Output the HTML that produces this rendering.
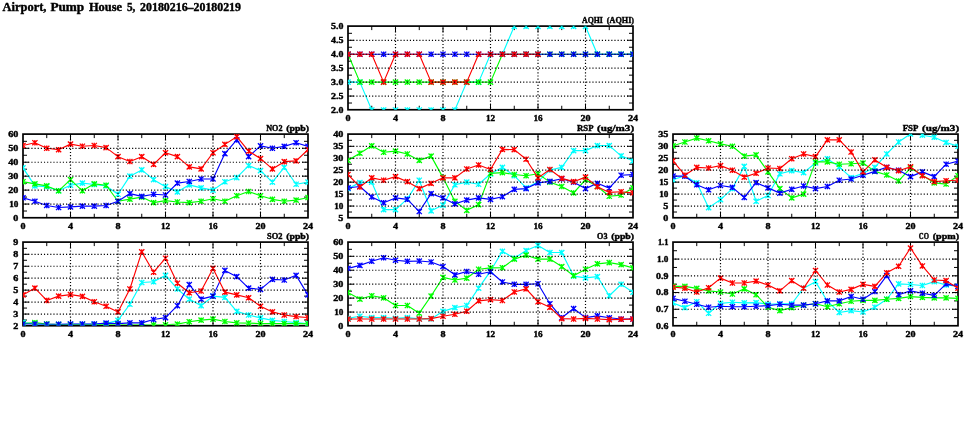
<!DOCTYPE html>
<html><head><meta charset="utf-8"><title>Airport, Pump House 5</title>
<style>
html,body{margin:0;padding:0;background:#fff;}
svg{will-change:transform;}
body{width:975px;height:447px;overflow:hidden;position:relative;font-family:"Liberation Serif",serif;}
</style></head><body>
<svg width="975" height="447" viewBox="0 0 975 447" style="position:absolute;left:0;top:0">
<defs>
<g id="mk"><path d="M-2.6,-2.6L2.6,2.6M-2.6,2.6L2.6,-2.6M0,-2.7L0,2.7" fill="none" stroke-width="1.3"/></g>
</defs>
<g font-family="Liberation Serif, serif" font-weight="bold" fill="#000" stroke="#000" stroke-width="0.4">
<text x="2.6" y="10.7" font-size="12" textLength="43.8" lengthAdjust="spacingAndGlyphs">Airport,</text>
<text x="50.4" y="10.7" font-size="12" textLength="33.8" lengthAdjust="spacingAndGlyphs">Pump</text>
<text x="88.9" y="10.7" font-size="12" textLength="33.1" lengthAdjust="spacingAndGlyphs">House</text>
<text x="126.9" y="10.7" font-size="12" textLength="8.4" lengthAdjust="spacingAndGlyphs">5,</text>
<text x="140.1" y="10.7" font-size="12" textLength="100.9" lengthAdjust="spacingAndGlyphs">20180216–20180219</text>
<clipPath id="cp1"><rect x="348" y="25.8" width="285" height="83.95"/></clipPath>
<clipPath id="cl1"><rect x="349.05" y="27.15" width="282.9" height="81.55"/></clipPath>
<path d="M371.75,109.75v-4.0M371.75,26.1v4.0M395.5,109.75v-6.0M395.5,26.1v6.0M419.25,109.75v-4.0M419.25,26.1v4.0M443,109.75v-6.0M443,26.1v6.0M466.75,109.75v-4.0M466.75,26.1v4.0M490.5,109.75v-6.0M490.5,26.1v6.0M514.25,109.75v-4.0M514.25,26.1v4.0M538,109.75v-6.0M538,26.1v6.0M561.75,109.75v-4.0M561.75,26.1v4.0M585.5,109.75v-6.0M585.5,26.1v6.0M609.25,109.75v-4.0M609.25,26.1v4.0M348,103.03h4.0M633,103.03h-4.0M348,96.06h6.0M633,96.06h-6.0M348,89.09h4.0M633,89.09h-4.0M348,82.12h6.0M633,82.12h-6.0M348,75.15h4.0M633,75.15h-4.0M348,68.17h6.0M633,68.17h-6.0M348,61.2h4.0M633,61.2h-4.0M348,54.23h6.0M633,54.23h-6.0M348,47.26h4.0M633,47.26h-4.0M348,40.29h6.0M633,40.29h-6.0M348,33.32h4.0M633,33.32h-4.0" stroke="#000" stroke-width="1" fill="none"/>
<rect x="348" y="26.1" width="285" height="83.65" fill="none" stroke="#000" stroke-width="1.7"/>
<g clip-path="url(#cp1)">
<polyline clip-path="url(#cl1)" points="348,82.12 359.88,82.12 371.75,110 383.62,110 395.5,110 407.38,110 419.25,110 431.12,110 443,110 454.88,110 466.75,82.12 478.62,82.12 490.5,54.23 502.38,54.23 514.25,26.35 526.12,26.35 538,26.35 549.88,26.35 561.75,26.35 573.62,26.35 585.5,26.35 597.38,54.23 609.25,54.23 621.12,54.23 633,54.23" fill="none" stroke="#00ffff" stroke-width="1.15" stroke-linejoin="round"/>
<g stroke="#00ffff"><use href="#mk" x="348" y="82.12"/><use href="#mk" x="359.88" y="82.12"/><use href="#mk" x="371.75" y="110"/><use href="#mk" x="383.62" y="110"/><use href="#mk" x="395.5" y="110"/><use href="#mk" x="407.38" y="110"/><use href="#mk" x="419.25" y="110"/><use href="#mk" x="431.12" y="110"/><use href="#mk" x="443" y="110"/><use href="#mk" x="454.88" y="110"/><use href="#mk" x="466.75" y="82.12"/><use href="#mk" x="478.62" y="82.12"/><use href="#mk" x="490.5" y="54.23"/><use href="#mk" x="502.38" y="54.23"/><use href="#mk" x="514.25" y="26.35"/><use href="#mk" x="526.12" y="26.35"/><use href="#mk" x="538" y="26.35"/><use href="#mk" x="549.88" y="26.35"/><use href="#mk" x="561.75" y="26.35"/><use href="#mk" x="573.62" y="26.35"/><use href="#mk" x="585.5" y="26.35"/><use href="#mk" x="597.38" y="54.23"/><use href="#mk" x="609.25" y="54.23"/><use href="#mk" x="621.12" y="54.23"/><use href="#mk" x="633" y="54.23"/></g>
<polyline clip-path="url(#cl1)" points="348,54.23 359.88,82.12 371.75,82.12 383.62,82.12 395.5,82.12 407.38,82.12 419.25,82.12 431.12,82.12 443,82.12 454.88,82.12 466.75,82.12 478.62,82.12 490.5,82.12 502.38,54.23 514.25,54.23 526.12,54.23 538,54.23 549.88,54.23 561.75,54.23 573.62,54.23 585.5,54.23 597.38,54.23 609.25,54.23 621.12,54.23 633,54.23" fill="none" stroke="#00ff00" stroke-width="1.15" stroke-linejoin="round"/>
<g stroke="#00ff00"><use href="#mk" x="348" y="54.23"/><use href="#mk" x="359.88" y="82.12"/><use href="#mk" x="371.75" y="82.12"/><use href="#mk" x="383.62" y="82.12"/><use href="#mk" x="395.5" y="82.12"/><use href="#mk" x="407.38" y="82.12"/><use href="#mk" x="419.25" y="82.12"/><use href="#mk" x="431.12" y="82.12"/><use href="#mk" x="443" y="82.12"/><use href="#mk" x="454.88" y="82.12"/><use href="#mk" x="466.75" y="82.12"/><use href="#mk" x="478.62" y="82.12"/><use href="#mk" x="490.5" y="82.12"/><use href="#mk" x="502.38" y="54.23"/><use href="#mk" x="514.25" y="54.23"/><use href="#mk" x="526.12" y="54.23"/><use href="#mk" x="538" y="54.23"/><use href="#mk" x="549.88" y="54.23"/><use href="#mk" x="561.75" y="54.23"/><use href="#mk" x="573.62" y="54.23"/><use href="#mk" x="585.5" y="54.23"/><use href="#mk" x="597.38" y="54.23"/><use href="#mk" x="609.25" y="54.23"/><use href="#mk" x="621.12" y="54.23"/><use href="#mk" x="633" y="54.23"/></g>
<polyline clip-path="url(#cl1)" points="348,54.23 359.88,54.23 371.75,54.23 383.62,54.23 395.5,54.23 407.38,54.23 419.25,54.23 431.12,54.23 443,54.23 454.88,54.23 466.75,54.23 478.62,54.23 490.5,54.23 502.38,54.23 514.25,54.23 526.12,54.23 538,54.23 549.88,54.23 561.75,54.23 573.62,54.23 585.5,54.23 597.38,54.23 609.25,54.23 621.12,54.23 633,54.23" fill="none" stroke="#0000ff" stroke-width="1.15" stroke-linejoin="round"/>
<g stroke="#0000ff"><use href="#mk" x="348" y="54.23"/><use href="#mk" x="359.88" y="54.23"/><use href="#mk" x="371.75" y="54.23"/><use href="#mk" x="383.62" y="54.23"/><use href="#mk" x="395.5" y="54.23"/><use href="#mk" x="407.38" y="54.23"/><use href="#mk" x="419.25" y="54.23"/><use href="#mk" x="431.12" y="54.23"/><use href="#mk" x="443" y="54.23"/><use href="#mk" x="454.88" y="54.23"/><use href="#mk" x="466.75" y="54.23"/><use href="#mk" x="478.62" y="54.23"/><use href="#mk" x="490.5" y="54.23"/><use href="#mk" x="502.38" y="54.23"/><use href="#mk" x="514.25" y="54.23"/><use href="#mk" x="526.12" y="54.23"/><use href="#mk" x="538" y="54.23"/><use href="#mk" x="549.88" y="54.23"/><use href="#mk" x="561.75" y="54.23"/><use href="#mk" x="573.62" y="54.23"/><use href="#mk" x="585.5" y="54.23"/><use href="#mk" x="597.38" y="54.23"/><use href="#mk" x="609.25" y="54.23"/><use href="#mk" x="621.12" y="54.23"/><use href="#mk" x="633" y="54.23"/></g>
<polyline clip-path="url(#cl1)" points="348,54.23 359.88,54.23 371.75,54.23 383.62,82.12 395.5,54.23 407.38,54.23 419.25,54.23 431.12,82.12 443,82.12 454.88,82.12 466.75,82.12 478.62,54.23 490.5,54.23 502.38,54.23 514.25,54.23 526.12,54.23 538,54.23" fill="none" stroke="#ff0000" stroke-width="1.15" stroke-linejoin="round"/>
<g stroke="#ff0000"><use href="#mk" x="348" y="54.23"/><use href="#mk" x="359.88" y="54.23"/><use href="#mk" x="371.75" y="54.23"/><use href="#mk" x="383.62" y="82.12"/><use href="#mk" x="395.5" y="54.23"/><use href="#mk" x="407.38" y="54.23"/><use href="#mk" x="419.25" y="54.23"/><use href="#mk" x="431.12" y="82.12"/><use href="#mk" x="443" y="82.12"/><use href="#mk" x="454.88" y="82.12"/><use href="#mk" x="466.75" y="82.12"/><use href="#mk" x="478.62" y="54.23"/><use href="#mk" x="490.5" y="54.23"/><use href="#mk" x="502.38" y="54.23"/><use href="#mk" x="514.25" y="54.23"/><use href="#mk" x="526.12" y="54.23"/><use href="#mk" x="538" y="54.23"/></g>
</g>
<path d="M395.5,26.1V109.75M443,26.1V109.75M490.5,26.1V109.75M538,26.1V109.75M585.5,26.1V109.75M348,96.06H633M348,82.12H633M348,68.17H633M348,54.23H633M348,40.29H633" stroke="#000" stroke-width="1.2" stroke-dasharray="1.15 1.997" stroke-dashoffset="1.07" fill="none"/>
<text x="348" y="121.45" font-size="8.3" text-anchor="middle" textLength="5.05" lengthAdjust="spacingAndGlyphs">0</text>
<text x="395.5" y="121.45" font-size="8.3" text-anchor="middle" textLength="5.05" lengthAdjust="spacingAndGlyphs">4</text>
<text x="443" y="121.45" font-size="8.3" text-anchor="middle" textLength="5.05" lengthAdjust="spacingAndGlyphs">8</text>
<text x="490.5" y="121.45" font-size="8.3" text-anchor="middle" textLength="9.15" lengthAdjust="spacingAndGlyphs">12</text>
<text x="538" y="121.45" font-size="8.3" text-anchor="middle" textLength="9.15" lengthAdjust="spacingAndGlyphs">16</text>
<text x="585.5" y="121.45" font-size="8.3" text-anchor="middle" textLength="10.1" lengthAdjust="spacingAndGlyphs">20</text>
<text x="633" y="121.45" font-size="8.3" text-anchor="middle" textLength="10.1" lengthAdjust="spacingAndGlyphs">24</text>
<text x="343.4" y="112.9" font-size="8.3" text-anchor="end" textLength="12.4" lengthAdjust="spacingAndGlyphs">2.0</text>
<text x="343.4" y="98.96" font-size="8.3" text-anchor="end" textLength="12.4" lengthAdjust="spacingAndGlyphs">2.5</text>
<text x="343.4" y="85.02" font-size="8.3" text-anchor="end" textLength="12.4" lengthAdjust="spacingAndGlyphs">3.0</text>
<text x="343.4" y="71.08" font-size="8.3" text-anchor="end" textLength="12.4" lengthAdjust="spacingAndGlyphs">3.5</text>
<text x="343.4" y="57.13" font-size="8.3" text-anchor="end" textLength="12.4" lengthAdjust="spacingAndGlyphs">4.0</text>
<text x="343.4" y="43.19" font-size="8.3" text-anchor="end" textLength="12.4" lengthAdjust="spacingAndGlyphs">4.5</text>
<text x="343.4" y="29.25" font-size="8.3" text-anchor="end" textLength="12.4" lengthAdjust="spacingAndGlyphs">5.0</text>
<text x="602.9" y="22.7" font-size="8.3" text-anchor="end" textLength="20.9" lengthAdjust="spacingAndGlyphs">AQHI</text>
<text x="634.1" y="22.7" font-size="8.3" text-anchor="end" textLength="27.3" lengthAdjust="spacingAndGlyphs">(AQHI)</text>
<clipPath id="cp2"><rect x="23" y="133.8" width="285" height="83.95"/></clipPath>
<clipPath id="cl2"><rect x="24.05" y="135.15" width="282.9" height="81.55"/></clipPath>
<path d="M46.75,217.75v-4.0M46.75,134.1v4.0M70.5,217.75v-6.0M70.5,134.1v6.0M94.25,217.75v-4.0M94.25,134.1v4.0M118,217.75v-6.0M118,134.1v6.0M141.75,217.75v-4.0M141.75,134.1v4.0M165.5,217.75v-6.0M165.5,134.1v6.0M189.25,217.75v-4.0M189.25,134.1v4.0M213,217.75v-6.0M213,134.1v6.0M236.75,217.75v-4.0M236.75,134.1v4.0M260.5,217.75v-6.0M260.5,134.1v6.0M284.25,217.75v-4.0M284.25,134.1v4.0M23,211.03h4.0M308,211.03h-4.0M23,204.06h6.0M308,204.06h-6.0M23,197.09h4.0M308,197.09h-4.0M23,190.12h6.0M308,190.12h-6.0M23,183.15h4.0M308,183.15h-4.0M23,176.18h6.0M308,176.18h-6.0M23,169.2h4.0M308,169.2h-4.0M23,162.23h6.0M308,162.23h-6.0M23,155.26h4.0M308,155.26h-4.0M23,148.29h6.0M308,148.29h-6.0M23,141.32h4.0M308,141.32h-4.0" stroke="#000" stroke-width="1" fill="none"/>
<rect x="23" y="134.1" width="285" height="83.65" fill="none" stroke="#000" stroke-width="1.7"/>
<g clip-path="url(#cp2)">
<polyline clip-path="url(#cl2)" points="23,167.81 34.88,185.93 46.75,186.63 58.62,190.81 70.5,185.24 82.38,183.15 94.25,184.54 106.12,185.93 118,194.3 129.88,176.18 141.75,169.9 153.62,179.66 165.5,186.63 177.38,191.93 189.25,184.82 201.12,187.89 213,190.12 224.88,181.75 236.75,177.57 248.62,165.58 260.5,170.6 272.38,182.17 284.25,167.39 296.12,184.26 308,182.17" fill="none" stroke="#00ffff" stroke-width="1.15" stroke-linejoin="round"/>
<g stroke="#00ffff"><use href="#mk" x="23" y="167.81"/><use href="#mk" x="34.88" y="185.93"/><use href="#mk" x="46.75" y="186.63"/><use href="#mk" x="58.62" y="190.81"/><use href="#mk" x="70.5" y="185.24"/><use href="#mk" x="82.38" y="183.15"/><use href="#mk" x="94.25" y="184.54"/><use href="#mk" x="106.12" y="185.93"/><use href="#mk" x="118" y="194.3"/><use href="#mk" x="129.88" y="176.18"/><use href="#mk" x="141.75" y="169.9"/><use href="#mk" x="153.62" y="179.66"/><use href="#mk" x="165.5" y="186.63"/><use href="#mk" x="177.38" y="191.93"/><use href="#mk" x="189.25" y="184.82"/><use href="#mk" x="201.12" y="187.89"/><use href="#mk" x="213" y="190.12"/><use href="#mk" x="224.88" y="181.75"/><use href="#mk" x="236.75" y="177.57"/><use href="#mk" x="248.62" y="165.58"/><use href="#mk" x="260.5" y="170.6"/><use href="#mk" x="272.38" y="182.17"/><use href="#mk" x="284.25" y="167.39"/><use href="#mk" x="296.12" y="184.26"/><use href="#mk" x="308" y="182.17"/></g>
<polyline clip-path="url(#cl2)" points="23,181.75 34.88,183.84 46.75,185.93 58.62,190.81 70.5,179.66 82.38,190.81 94.25,183.84 106.12,185.24 118,201.27 129.88,199.18 141.75,197.09 153.62,202.66 165.5,200.57 177.38,201.97 189.25,202.66 201.12,201.27 213,198.76 224.88,201.27 236.75,195.69 248.62,191.51 260.5,195.69 272.38,199.32 284.25,201.27 296.12,200.15 308,197.51" fill="none" stroke="#00ff00" stroke-width="1.15" stroke-linejoin="round"/>
<g stroke="#00ff00"><use href="#mk" x="23" y="181.75"/><use href="#mk" x="34.88" y="183.84"/><use href="#mk" x="46.75" y="185.93"/><use href="#mk" x="58.62" y="190.81"/><use href="#mk" x="70.5" y="179.66"/><use href="#mk" x="82.38" y="190.81"/><use href="#mk" x="94.25" y="183.84"/><use href="#mk" x="106.12" y="185.24"/><use href="#mk" x="118" y="201.27"/><use href="#mk" x="129.88" y="199.18"/><use href="#mk" x="141.75" y="197.09"/><use href="#mk" x="153.62" y="202.66"/><use href="#mk" x="165.5" y="200.57"/><use href="#mk" x="177.38" y="201.97"/><use href="#mk" x="189.25" y="202.66"/><use href="#mk" x="201.12" y="201.27"/><use href="#mk" x="213" y="198.76"/><use href="#mk" x="224.88" y="201.27"/><use href="#mk" x="236.75" y="195.69"/><use href="#mk" x="248.62" y="191.51"/><use href="#mk" x="260.5" y="195.69"/><use href="#mk" x="272.38" y="199.32"/><use href="#mk" x="284.25" y="201.27"/><use href="#mk" x="296.12" y="200.15"/><use href="#mk" x="308" y="197.51"/></g>
<polyline clip-path="url(#cl2)" points="23,197.78 34.88,201.27 46.75,205.45 58.62,207.54 70.5,206.85 82.38,206.15 94.25,206.15 106.12,205.45 118,201.27 129.88,193.6 141.75,196.39 153.62,194.3 165.5,195 177.38,183.15 189.25,181.47 201.12,178.96 213,178.96 224.88,153.59 236.75,139.93 248.62,156.66 260.5,145.92 272.38,148.29 284.25,146.34 296.12,142.71 308,146.34" fill="none" stroke="#0000ff" stroke-width="1.15" stroke-linejoin="round"/>
<g stroke="#0000ff"><use href="#mk" x="23" y="197.78"/><use href="#mk" x="34.88" y="201.27"/><use href="#mk" x="46.75" y="205.45"/><use href="#mk" x="58.62" y="207.54"/><use href="#mk" x="70.5" y="206.85"/><use href="#mk" x="82.38" y="206.15"/><use href="#mk" x="94.25" y="206.15"/><use href="#mk" x="106.12" y="205.45"/><use href="#mk" x="118" y="201.27"/><use href="#mk" x="129.88" y="193.6"/><use href="#mk" x="141.75" y="196.39"/><use href="#mk" x="153.62" y="194.3"/><use href="#mk" x="165.5" y="195"/><use href="#mk" x="177.38" y="183.15"/><use href="#mk" x="189.25" y="181.47"/><use href="#mk" x="201.12" y="178.96"/><use href="#mk" x="213" y="178.96"/><use href="#mk" x="224.88" y="153.59"/><use href="#mk" x="236.75" y="139.93"/><use href="#mk" x="248.62" y="156.66"/><use href="#mk" x="260.5" y="145.92"/><use href="#mk" x="272.38" y="148.29"/><use href="#mk" x="284.25" y="146.34"/><use href="#mk" x="296.12" y="142.71"/><use href="#mk" x="308" y="146.34"/></g>
<polyline clip-path="url(#cl2)" points="23,145.5 34.88,142.71 46.75,148.29 58.62,149.69 70.5,144.11 82.38,146.2 94.25,145.5 106.12,147.59 118,156.66 129.88,161.54 141.75,156.66 153.62,164.32 165.5,152.75 177.38,156.66 189.25,166.83 201.12,168.93 213,152.75 224.88,144.39 236.75,136.72 248.62,151.08 260.5,158.61 272.38,168.93 284.25,161.68 296.12,160.84 308,149.69" fill="none" stroke="#ff0000" stroke-width="1.15" stroke-linejoin="round"/>
<g stroke="#ff0000"><use href="#mk" x="23" y="145.5"/><use href="#mk" x="34.88" y="142.71"/><use href="#mk" x="46.75" y="148.29"/><use href="#mk" x="58.62" y="149.69"/><use href="#mk" x="70.5" y="144.11"/><use href="#mk" x="82.38" y="146.2"/><use href="#mk" x="94.25" y="145.5"/><use href="#mk" x="106.12" y="147.59"/><use href="#mk" x="118" y="156.66"/><use href="#mk" x="129.88" y="161.54"/><use href="#mk" x="141.75" y="156.66"/><use href="#mk" x="153.62" y="164.32"/><use href="#mk" x="165.5" y="152.75"/><use href="#mk" x="177.38" y="156.66"/><use href="#mk" x="189.25" y="166.83"/><use href="#mk" x="201.12" y="168.93"/><use href="#mk" x="213" y="152.75"/><use href="#mk" x="224.88" y="144.39"/><use href="#mk" x="236.75" y="136.72"/><use href="#mk" x="248.62" y="151.08"/><use href="#mk" x="260.5" y="158.61"/><use href="#mk" x="272.38" y="168.93"/><use href="#mk" x="284.25" y="161.68"/><use href="#mk" x="296.12" y="160.84"/><use href="#mk" x="308" y="149.69"/></g>
</g>
<path d="M70.5,134.1V217.75M118,134.1V217.75M165.5,134.1V217.75M213,134.1V217.75M260.5,134.1V217.75M23,204.06H308M23,190.12H308M23,176.18H308M23,162.23H308M23,148.29H308" stroke="#000" stroke-width="1.2" stroke-dasharray="1.15 1.997" stroke-dashoffset="1.07" fill="none"/>
<text x="23" y="229.45" font-size="8.3" text-anchor="middle" textLength="5.05" lengthAdjust="spacingAndGlyphs">0</text>
<text x="70.5" y="229.45" font-size="8.3" text-anchor="middle" textLength="5.05" lengthAdjust="spacingAndGlyphs">4</text>
<text x="118" y="229.45" font-size="8.3" text-anchor="middle" textLength="5.05" lengthAdjust="spacingAndGlyphs">8</text>
<text x="165.5" y="229.45" font-size="8.3" text-anchor="middle" textLength="9.15" lengthAdjust="spacingAndGlyphs">12</text>
<text x="213" y="229.45" font-size="8.3" text-anchor="middle" textLength="9.15" lengthAdjust="spacingAndGlyphs">16</text>
<text x="260.5" y="229.45" font-size="8.3" text-anchor="middle" textLength="10.1" lengthAdjust="spacingAndGlyphs">20</text>
<text x="308" y="229.45" font-size="8.3" text-anchor="middle" textLength="10.1" lengthAdjust="spacingAndGlyphs">24</text>
<text x="18.4" y="220.9" font-size="8.3" text-anchor="end" textLength="5.05" lengthAdjust="spacingAndGlyphs">0</text>
<text x="18.4" y="206.96" font-size="8.3" text-anchor="end" textLength="9.15" lengthAdjust="spacingAndGlyphs">10</text>
<text x="18.4" y="193.02" font-size="8.3" text-anchor="end" textLength="10.1" lengthAdjust="spacingAndGlyphs">20</text>
<text x="18.4" y="179.08" font-size="8.3" text-anchor="end" textLength="10.1" lengthAdjust="spacingAndGlyphs">30</text>
<text x="18.4" y="165.13" font-size="8.3" text-anchor="end" textLength="10.1" lengthAdjust="spacingAndGlyphs">40</text>
<text x="18.4" y="151.19" font-size="8.3" text-anchor="end" textLength="10.1" lengthAdjust="spacingAndGlyphs">50</text>
<text x="18.4" y="137.25" font-size="8.3" text-anchor="end" textLength="10.1" lengthAdjust="spacingAndGlyphs">60</text>
<text x="282.5" y="130.7" font-size="8.3" text-anchor="end" textLength="16.3" lengthAdjust="spacingAndGlyphs">NO2</text>
<text x="309.1" y="130.7" font-size="8.3" text-anchor="end" textLength="22.9" lengthAdjust="spacingAndGlyphs">(ppb)</text>
<clipPath id="cp3"><rect x="348" y="133.8" width="285" height="83.95"/></clipPath>
<clipPath id="cl3"><rect x="349.05" y="135.15" width="282.9" height="81.55"/></clipPath>
<path d="M371.75,217.75v-4.0M371.75,134.1v4.0M395.5,217.75v-6.0M395.5,134.1v6.0M419.25,217.75v-4.0M419.25,134.1v4.0M443,217.75v-6.0M443,134.1v6.0M466.75,217.75v-4.0M466.75,134.1v4.0M490.5,217.75v-6.0M490.5,134.1v6.0M514.25,217.75v-4.0M514.25,134.1v4.0M538,217.75v-6.0M538,134.1v6.0M561.75,217.75v-4.0M561.75,134.1v4.0M585.5,217.75v-6.0M585.5,134.1v6.0M609.25,217.75v-4.0M609.25,134.1v4.0M348,212.03h4.0M633,212.03h-4.0M348,206.05h6.0M633,206.05h-6.0M348,200.07h4.0M633,200.07h-4.0M348,194.1h6.0M633,194.1h-6.0M348,188.12h4.0M633,188.12h-4.0M348,182.15h6.0M633,182.15h-6.0M348,176.18h4.0M633,176.18h-4.0M348,170.2h6.0M633,170.2h-6.0M348,164.22h4.0M633,164.22h-4.0M348,158.25h6.0M633,158.25h-6.0M348,152.28h4.0M633,152.28h-4.0M348,146.3h6.0M633,146.3h-6.0M348,140.32h4.0M633,140.32h-4.0" stroke="#000" stroke-width="1" fill="none"/>
<rect x="348" y="134.1" width="285" height="83.65" fill="none" stroke="#000" stroke-width="1.7"/>
<g clip-path="url(#cp3)">
<polyline clip-path="url(#cl3)" points="348,188.6 359.88,182.63 371.75,182.15 383.62,209.63 395.5,209.63 407.38,198.88 419.25,180.24 431.12,210.83 443,205.09 454.88,184.78 466.75,182.15 478.62,184.3 490.5,174.02 502.38,167.33 514.25,175.7 526.12,187.89 538,181.67 549.88,169.96 561.75,167.33 573.62,150.6 585.5,150.6 597.38,145.58 609.25,145.58 621.12,155.86 633,160.88" fill="none" stroke="#00ffff" stroke-width="1.15" stroke-linejoin="round"/>
<g stroke="#00ffff"><use href="#mk" x="348" y="188.6"/><use href="#mk" x="359.88" y="182.63"/><use href="#mk" x="371.75" y="182.15"/><use href="#mk" x="383.62" y="209.63"/><use href="#mk" x="395.5" y="209.63"/><use href="#mk" x="407.38" y="198.88"/><use href="#mk" x="419.25" y="180.24"/><use href="#mk" x="431.12" y="210.83"/><use href="#mk" x="443" y="205.09"/><use href="#mk" x="454.88" y="184.78"/><use href="#mk" x="466.75" y="182.15"/><use href="#mk" x="478.62" y="184.3"/><use href="#mk" x="490.5" y="174.02"/><use href="#mk" x="502.38" y="167.33"/><use href="#mk" x="514.25" y="175.7"/><use href="#mk" x="526.12" y="187.89"/><use href="#mk" x="538" y="181.67"/><use href="#mk" x="549.88" y="169.96"/><use href="#mk" x="561.75" y="167.33"/><use href="#mk" x="573.62" y="150.6"/><use href="#mk" x="585.5" y="150.6"/><use href="#mk" x="597.38" y="145.58"/><use href="#mk" x="609.25" y="145.58"/><use href="#mk" x="621.12" y="155.86"/><use href="#mk" x="633" y="160.88"/></g>
<polyline clip-path="url(#cl3)" points="348,160.4 359.88,153.23 371.75,145.82 383.62,152.28 395.5,151.08 407.38,153.95 419.25,160.4 431.12,156.1 443,177.61 454.88,201.27 466.75,210.35 478.62,204.62 490.5,173.31 502.38,172.59 514.25,174.5 526.12,175.7 538,173.78 549.88,182.15 561.75,186.45 573.62,192.91 585.5,179.76 597.38,186.45 609.25,196.25 621.12,195.06 633,187.89" fill="none" stroke="#00ff00" stroke-width="1.15" stroke-linejoin="round"/>
<g stroke="#00ff00"><use href="#mk" x="348" y="160.4"/><use href="#mk" x="359.88" y="153.23"/><use href="#mk" x="371.75" y="145.82"/><use href="#mk" x="383.62" y="152.28"/><use href="#mk" x="395.5" y="151.08"/><use href="#mk" x="407.38" y="153.95"/><use href="#mk" x="419.25" y="160.4"/><use href="#mk" x="431.12" y="156.1"/><use href="#mk" x="443" y="177.61"/><use href="#mk" x="454.88" y="201.27"/><use href="#mk" x="466.75" y="210.35"/><use href="#mk" x="478.62" y="204.62"/><use href="#mk" x="490.5" y="173.31"/><use href="#mk" x="502.38" y="172.59"/><use href="#mk" x="514.25" y="174.5"/><use href="#mk" x="526.12" y="175.7"/><use href="#mk" x="538" y="173.78"/><use href="#mk" x="549.88" y="182.15"/><use href="#mk" x="561.75" y="186.45"/><use href="#mk" x="573.62" y="192.91"/><use href="#mk" x="585.5" y="179.76"/><use href="#mk" x="597.38" y="186.45"/><use href="#mk" x="609.25" y="196.25"/><use href="#mk" x="621.12" y="195.06"/><use href="#mk" x="633" y="187.89"/></g>
<polyline clip-path="url(#cl3)" points="348,187.89 359.88,186.45 371.75,196.97 383.62,202.7 395.5,197.92 407.38,199.36 419.25,211.55 431.12,193.62 443,197.92 454.88,203.9 466.75,200.07 478.62,197.92 490.5,199.36 502.38,196.73 514.25,189.32 526.12,188.6 538,182.87 549.88,181.43 561.75,178.8 573.62,182.15 585.5,188.6 597.38,183.34 609.25,188.12 621.12,175.22 633,174.5" fill="none" stroke="#0000ff" stroke-width="1.15" stroke-linejoin="round"/>
<g stroke="#0000ff"><use href="#mk" x="348" y="187.89"/><use href="#mk" x="359.88" y="186.45"/><use href="#mk" x="371.75" y="196.97"/><use href="#mk" x="383.62" y="202.7"/><use href="#mk" x="395.5" y="197.92"/><use href="#mk" x="407.38" y="199.36"/><use href="#mk" x="419.25" y="211.55"/><use href="#mk" x="431.12" y="193.62"/><use href="#mk" x="443" y="197.92"/><use href="#mk" x="454.88" y="203.9"/><use href="#mk" x="466.75" y="200.07"/><use href="#mk" x="478.62" y="197.92"/><use href="#mk" x="490.5" y="199.36"/><use href="#mk" x="502.38" y="196.73"/><use href="#mk" x="514.25" y="189.32"/><use href="#mk" x="526.12" y="188.6"/><use href="#mk" x="538" y="182.87"/><use href="#mk" x="549.88" y="181.43"/><use href="#mk" x="561.75" y="178.8"/><use href="#mk" x="573.62" y="182.15"/><use href="#mk" x="585.5" y="188.6"/><use href="#mk" x="597.38" y="183.34"/><use href="#mk" x="609.25" y="188.12"/><use href="#mk" x="621.12" y="175.22"/><use href="#mk" x="633" y="174.5"/></g>
<polyline clip-path="url(#cl3)" points="348,174.5 359.88,186.93 371.75,177.85 383.62,180.24 395.5,176.65 407.38,181.67 419.25,188.6 431.12,183.34 443,177.85 454.88,177.85 466.75,169 478.62,164.94 490.5,169.48 502.38,149.41 514.25,149.65 526.12,159.21 538,177.85 549.88,169.48 561.75,178.33 573.62,181.67 585.5,177.13 597.38,186.69 609.25,192.43 621.12,191.71 633,192.91" fill="none" stroke="#ff0000" stroke-width="1.15" stroke-linejoin="round"/>
<g stroke="#ff0000"><use href="#mk" x="348" y="174.5"/><use href="#mk" x="359.88" y="186.93"/><use href="#mk" x="371.75" y="177.85"/><use href="#mk" x="383.62" y="180.24"/><use href="#mk" x="395.5" y="176.65"/><use href="#mk" x="407.38" y="181.67"/><use href="#mk" x="419.25" y="188.6"/><use href="#mk" x="431.12" y="183.34"/><use href="#mk" x="443" y="177.85"/><use href="#mk" x="454.88" y="177.85"/><use href="#mk" x="466.75" y="169"/><use href="#mk" x="478.62" y="164.94"/><use href="#mk" x="490.5" y="169.48"/><use href="#mk" x="502.38" y="149.41"/><use href="#mk" x="514.25" y="149.65"/><use href="#mk" x="526.12" y="159.21"/><use href="#mk" x="538" y="177.85"/><use href="#mk" x="549.88" y="169.48"/><use href="#mk" x="561.75" y="178.33"/><use href="#mk" x="573.62" y="181.67"/><use href="#mk" x="585.5" y="177.13"/><use href="#mk" x="597.38" y="186.69"/><use href="#mk" x="609.25" y="192.43"/><use href="#mk" x="621.12" y="191.71"/><use href="#mk" x="633" y="192.91"/></g>
</g>
<path d="M395.5,134.1V217.75M443,134.1V217.75M490.5,134.1V217.75M538,134.1V217.75M585.5,134.1V217.75M348,206.05H633M348,194.1H633M348,182.15H633M348,170.2H633M348,158.25H633M348,146.3H633" stroke="#000" stroke-width="1.2" stroke-dasharray="1.15 1.997" stroke-dashoffset="1.07" fill="none"/>
<text x="348" y="229.45" font-size="8.3" text-anchor="middle" textLength="5.05" lengthAdjust="spacingAndGlyphs">0</text>
<text x="395.5" y="229.45" font-size="8.3" text-anchor="middle" textLength="5.05" lengthAdjust="spacingAndGlyphs">4</text>
<text x="443" y="229.45" font-size="8.3" text-anchor="middle" textLength="5.05" lengthAdjust="spacingAndGlyphs">8</text>
<text x="490.5" y="229.45" font-size="8.3" text-anchor="middle" textLength="9.15" lengthAdjust="spacingAndGlyphs">12</text>
<text x="538" y="229.45" font-size="8.3" text-anchor="middle" textLength="9.15" lengthAdjust="spacingAndGlyphs">16</text>
<text x="585.5" y="229.45" font-size="8.3" text-anchor="middle" textLength="10.1" lengthAdjust="spacingAndGlyphs">20</text>
<text x="633" y="229.45" font-size="8.3" text-anchor="middle" textLength="10.1" lengthAdjust="spacingAndGlyphs">24</text>
<text x="343.4" y="220.9" font-size="8.3" text-anchor="end" textLength="5.05" lengthAdjust="spacingAndGlyphs">5</text>
<text x="343.4" y="208.95" font-size="8.3" text-anchor="end" textLength="9.15" lengthAdjust="spacingAndGlyphs">10</text>
<text x="343.4" y="197" font-size="8.3" text-anchor="end" textLength="9.15" lengthAdjust="spacingAndGlyphs">15</text>
<text x="343.4" y="185.05" font-size="8.3" text-anchor="end" textLength="10.1" lengthAdjust="spacingAndGlyphs">20</text>
<text x="343.4" y="173.1" font-size="8.3" text-anchor="end" textLength="10.1" lengthAdjust="spacingAndGlyphs">25</text>
<text x="343.4" y="161.15" font-size="8.3" text-anchor="end" textLength="10.1" lengthAdjust="spacingAndGlyphs">30</text>
<text x="343.4" y="149.2" font-size="8.3" text-anchor="end" textLength="10.1" lengthAdjust="spacingAndGlyphs">35</text>
<text x="343.4" y="137.25" font-size="8.3" text-anchor="end" textLength="10.1" lengthAdjust="spacingAndGlyphs">40</text>
<text x="593.5" y="130.7" font-size="8.3" text-anchor="end" textLength="16.5" lengthAdjust="spacingAndGlyphs">RSP</text>
<text x="634.1" y="130.7" font-size="8.3" text-anchor="end" textLength="37" lengthAdjust="spacingAndGlyphs">(ug/m3)</text>
<clipPath id="cp4"><rect x="673" y="133.8" width="285" height="83.95"/></clipPath>
<clipPath id="cl4"><rect x="674.05" y="135.15" width="282.9" height="81.55"/></clipPath>
<path d="M696.75,217.75v-4.0M696.75,134.1v4.0M720.5,217.75v-6.0M720.5,134.1v6.0M744.25,217.75v-4.0M744.25,134.1v4.0M768,217.75v-6.0M768,134.1v6.0M791.75,217.75v-4.0M791.75,134.1v4.0M815.5,217.75v-6.0M815.5,134.1v6.0M839.25,217.75v-4.0M839.25,134.1v4.0M863,217.75v-6.0M863,134.1v6.0M886.75,217.75v-4.0M886.75,134.1v4.0M910.5,217.75v-6.0M910.5,134.1v6.0M934.25,217.75v-4.0M934.25,134.1v4.0M673,212.03h4.0M958,212.03h-4.0M673,206.05h6.0M958,206.05h-6.0M673,200.07h4.0M958,200.07h-4.0M673,194.1h6.0M958,194.1h-6.0M673,188.12h4.0M958,188.12h-4.0M673,182.15h6.0M958,182.15h-6.0M673,176.18h4.0M958,176.18h-4.0M673,170.2h6.0M958,170.2h-6.0M673,164.22h4.0M958,164.22h-4.0M673,158.25h6.0M958,158.25h-6.0M673,152.28h4.0M958,152.28h-4.0M673,146.3h6.0M958,146.3h-6.0M673,140.32h4.0M958,140.32h-4.0" stroke="#000" stroke-width="1" fill="none"/>
<rect x="673" y="134.1" width="285" height="83.65" fill="none" stroke="#000" stroke-width="1.7"/>
<g clip-path="url(#cp4)">
<polyline clip-path="url(#cl4)" points="673,179.76 684.88,175.7 696.75,182.87 708.62,207.72 720.5,199.6 732.38,188.6 744.25,166.38 756.12,201.27 768,195.53 779.88,173.78 791.75,170.68 803.62,172.59 815.5,163.03 827.38,158.73 839.25,166.85 851.12,177.61 863,173.31 874.88,167.33 886.75,153.95 898.62,142 910.5,133.87 922.38,135.07 934.25,137.22 946.12,142.48 958,146.3" fill="none" stroke="#00ffff" stroke-width="1.15" stroke-linejoin="round"/>
<g stroke="#00ffff"><use href="#mk" x="673" y="179.76"/><use href="#mk" x="684.88" y="175.7"/><use href="#mk" x="696.75" y="182.87"/><use href="#mk" x="708.62" y="207.72"/><use href="#mk" x="720.5" y="199.6"/><use href="#mk" x="732.38" y="188.6"/><use href="#mk" x="744.25" y="166.38"/><use href="#mk" x="756.12" y="201.27"/><use href="#mk" x="768" y="195.53"/><use href="#mk" x="779.88" y="173.78"/><use href="#mk" x="791.75" y="170.68"/><use href="#mk" x="803.62" y="172.59"/><use href="#mk" x="815.5" y="163.03"/><use href="#mk" x="827.38" y="158.73"/><use href="#mk" x="839.25" y="166.85"/><use href="#mk" x="851.12" y="177.61"/><use href="#mk" x="863" y="173.31"/><use href="#mk" x="874.88" y="167.33"/><use href="#mk" x="886.75" y="153.95"/><use href="#mk" x="898.62" y="142"/><use href="#mk" x="910.5" y="133.87"/><use href="#mk" x="922.38" y="135.07"/><use href="#mk" x="934.25" y="137.22"/><use href="#mk" x="946.12" y="142.48"/><use href="#mk" x="958" y="146.3"/></g>
<polyline clip-path="url(#cl4)" points="673,145.82 684.88,142 696.75,138.17 708.62,140.8 720.5,143.91 732.38,146.3 744.25,156.1 756.12,154.9 768,171.87 779.88,188.6 791.75,197.92 803.62,194.1 815.5,161.84 827.38,161.84 839.25,164.22 851.12,163.75 863,163.03 874.88,171.39 886.75,174.98 898.62,180.95 910.5,168.05 922.38,175.22 934.25,182.87 946.12,184.06 958,175.7" fill="none" stroke="#00ff00" stroke-width="1.15" stroke-linejoin="round"/>
<g stroke="#00ff00"><use href="#mk" x="673" y="145.82"/><use href="#mk" x="684.88" y="142"/><use href="#mk" x="696.75" y="138.17"/><use href="#mk" x="708.62" y="140.8"/><use href="#mk" x="720.5" y="143.91"/><use href="#mk" x="732.38" y="146.3"/><use href="#mk" x="744.25" y="156.1"/><use href="#mk" x="756.12" y="154.9"/><use href="#mk" x="768" y="171.87"/><use href="#mk" x="779.88" y="188.6"/><use href="#mk" x="791.75" y="197.92"/><use href="#mk" x="803.62" y="194.1"/><use href="#mk" x="815.5" y="161.84"/><use href="#mk" x="827.38" y="161.84"/><use href="#mk" x="839.25" y="164.22"/><use href="#mk" x="851.12" y="163.75"/><use href="#mk" x="863" y="163.03"/><use href="#mk" x="874.88" y="171.39"/><use href="#mk" x="886.75" y="174.98"/><use href="#mk" x="898.62" y="180.95"/><use href="#mk" x="910.5" y="168.05"/><use href="#mk" x="922.38" y="175.22"/><use href="#mk" x="934.25" y="182.87"/><use href="#mk" x="946.12" y="184.06"/><use href="#mk" x="958" y="175.7"/></g>
<polyline clip-path="url(#cl4)" points="673,176.18 684.88,176.18 696.75,184.78 708.62,189.8 720.5,185.5 732.38,187.41 744.25,197.45 756.12,182.63 768,187.89 779.88,193.14 791.75,189.32 803.62,185.97 815.5,188.6 827.38,186.45 839.25,180.24 851.12,179.04 863,175.22 874.88,171.39 886.75,167.33 898.62,170.2 910.5,176.65 922.38,171.87 934.25,176.65 946.12,164.22 958,161.12" fill="none" stroke="#0000ff" stroke-width="1.15" stroke-linejoin="round"/>
<g stroke="#0000ff"><use href="#mk" x="673" y="176.18"/><use href="#mk" x="684.88" y="176.18"/><use href="#mk" x="696.75" y="184.78"/><use href="#mk" x="708.62" y="189.8"/><use href="#mk" x="720.5" y="185.5"/><use href="#mk" x="732.38" y="187.41"/><use href="#mk" x="744.25" y="197.45"/><use href="#mk" x="756.12" y="182.63"/><use href="#mk" x="768" y="187.89"/><use href="#mk" x="779.88" y="193.14"/><use href="#mk" x="791.75" y="189.32"/><use href="#mk" x="803.62" y="185.97"/><use href="#mk" x="815.5" y="188.6"/><use href="#mk" x="827.38" y="186.45"/><use href="#mk" x="839.25" y="180.24"/><use href="#mk" x="851.12" y="179.04"/><use href="#mk" x="863" y="175.22"/><use href="#mk" x="874.88" y="171.39"/><use href="#mk" x="886.75" y="167.33"/><use href="#mk" x="898.62" y="170.2"/><use href="#mk" x="910.5" y="176.65"/><use href="#mk" x="922.38" y="171.87"/><use href="#mk" x="934.25" y="176.65"/><use href="#mk" x="946.12" y="164.22"/><use href="#mk" x="958" y="161.12"/></g>
<polyline clip-path="url(#cl4)" points="673,160.88 684.88,175.22 696.75,167.33 708.62,168.05 720.5,165.66 732.38,170.2 744.25,177.13 756.12,173.31 768,168.05 779.88,168.53 791.75,158.73 803.62,153.95 815.5,156.58 827.38,139.85 839.25,139.85 851.12,152.04 863,171.87 874.88,159.92 886.75,167.33 898.62,170.68 910.5,166.85 922.38,175.7 934.25,181.67 946.12,180.72 958,180.24" fill="none" stroke="#ff0000" stroke-width="1.15" stroke-linejoin="round"/>
<g stroke="#ff0000"><use href="#mk" x="673" y="160.88"/><use href="#mk" x="684.88" y="175.22"/><use href="#mk" x="696.75" y="167.33"/><use href="#mk" x="708.62" y="168.05"/><use href="#mk" x="720.5" y="165.66"/><use href="#mk" x="732.38" y="170.2"/><use href="#mk" x="744.25" y="177.13"/><use href="#mk" x="756.12" y="173.31"/><use href="#mk" x="768" y="168.05"/><use href="#mk" x="779.88" y="168.53"/><use href="#mk" x="791.75" y="158.73"/><use href="#mk" x="803.62" y="153.95"/><use href="#mk" x="815.5" y="156.58"/><use href="#mk" x="827.38" y="139.85"/><use href="#mk" x="839.25" y="139.85"/><use href="#mk" x="851.12" y="152.04"/><use href="#mk" x="863" y="171.87"/><use href="#mk" x="874.88" y="159.92"/><use href="#mk" x="886.75" y="167.33"/><use href="#mk" x="898.62" y="170.68"/><use href="#mk" x="910.5" y="166.85"/><use href="#mk" x="922.38" y="175.7"/><use href="#mk" x="934.25" y="181.67"/><use href="#mk" x="946.12" y="180.72"/><use href="#mk" x="958" y="180.24"/></g>
</g>
<path d="M720.5,134.1V217.75M768,134.1V217.75M815.5,134.1V217.75M863,134.1V217.75M910.5,134.1V217.75M673,206.05H958M673,194.1H958M673,182.15H958M673,170.2H958M673,158.25H958M673,146.3H958" stroke="#000" stroke-width="1.2" stroke-dasharray="1.15 1.997" stroke-dashoffset="1.07" fill="none"/>
<text x="673" y="229.45" font-size="8.3" text-anchor="middle" textLength="5.05" lengthAdjust="spacingAndGlyphs">0</text>
<text x="720.5" y="229.45" font-size="8.3" text-anchor="middle" textLength="5.05" lengthAdjust="spacingAndGlyphs">4</text>
<text x="768" y="229.45" font-size="8.3" text-anchor="middle" textLength="5.05" lengthAdjust="spacingAndGlyphs">8</text>
<text x="815.5" y="229.45" font-size="8.3" text-anchor="middle" textLength="9.15" lengthAdjust="spacingAndGlyphs">12</text>
<text x="863" y="229.45" font-size="8.3" text-anchor="middle" textLength="9.15" lengthAdjust="spacingAndGlyphs">16</text>
<text x="910.5" y="229.45" font-size="8.3" text-anchor="middle" textLength="10.1" lengthAdjust="spacingAndGlyphs">20</text>
<text x="958" y="229.45" font-size="8.3" text-anchor="middle" textLength="10.1" lengthAdjust="spacingAndGlyphs">24</text>
<text x="668.4" y="220.9" font-size="8.3" text-anchor="end" textLength="5.05" lengthAdjust="spacingAndGlyphs">0</text>
<text x="668.4" y="208.95" font-size="8.3" text-anchor="end" textLength="5.05" lengthAdjust="spacingAndGlyphs">5</text>
<text x="668.4" y="197" font-size="8.3" text-anchor="end" textLength="9.15" lengthAdjust="spacingAndGlyphs">10</text>
<text x="668.4" y="185.05" font-size="8.3" text-anchor="end" textLength="9.15" lengthAdjust="spacingAndGlyphs">15</text>
<text x="668.4" y="173.1" font-size="8.3" text-anchor="end" textLength="10.1" lengthAdjust="spacingAndGlyphs">20</text>
<text x="668.4" y="161.15" font-size="8.3" text-anchor="end" textLength="10.1" lengthAdjust="spacingAndGlyphs">25</text>
<text x="668.4" y="149.2" font-size="8.3" text-anchor="end" textLength="10.1" lengthAdjust="spacingAndGlyphs">30</text>
<text x="668.4" y="137.25" font-size="8.3" text-anchor="end" textLength="10.1" lengthAdjust="spacingAndGlyphs">35</text>
<text x="918.5" y="130.7" font-size="8.3" text-anchor="end" textLength="15.8" lengthAdjust="spacingAndGlyphs">FSP</text>
<text x="959.1" y="130.7" font-size="8.3" text-anchor="end" textLength="37" lengthAdjust="spacingAndGlyphs">(ug/m3)</text>
<clipPath id="cp5"><rect x="23" y="241.8" width="285" height="83.95"/></clipPath>
<clipPath id="cl5"><rect x="24.05" y="243.15" width="282.9" height="81.55"/></clipPath>
<path d="M46.75,325.75v-4.0M46.75,242.1v4.0M70.5,325.75v-6.0M70.5,242.1v6.0M94.25,325.75v-4.0M94.25,242.1v4.0M118,325.75v-6.0M118,242.1v6.0M141.75,325.75v-4.0M141.75,242.1v4.0M165.5,325.75v-6.0M165.5,242.1v6.0M189.25,325.75v-4.0M189.25,242.1v4.0M213,325.75v-6.0M213,242.1v6.0M236.75,325.75v-4.0M236.75,242.1v4.0M260.5,325.75v-6.0M260.5,242.1v6.0M284.25,325.75v-4.0M284.25,242.1v4.0M23,320.02h4.0M308,320.02h-4.0M23,314.05h6.0M308,314.05h-6.0M23,308.07h4.0M308,308.07h-4.0M23,302.1h6.0M308,302.1h-6.0M23,296.12h4.0M308,296.12h-4.0M23,290.15h6.0M308,290.15h-6.0M23,284.18h4.0M308,284.18h-4.0M23,278.2h6.0M308,278.2h-6.0M23,272.23h4.0M308,272.23h-4.0M23,266.25h6.0M308,266.25h-6.0M23,260.27h4.0M308,260.27h-4.0M23,254.3h6.0M308,254.3h-6.0M23,248.32h4.0M308,248.32h-4.0" stroke="#000" stroke-width="1" fill="none"/>
<rect x="23" y="242.1" width="285" height="83.65" fill="none" stroke="#000" stroke-width="1.7"/>
<g clip-path="url(#cp5)">
<polyline clip-path="url(#cl5)" points="23,322.42 34.88,324.21 46.75,324.57 58.62,324.57 70.5,324.21 82.38,324.21 94.25,324.21 106.12,323.61 118,320.38 129.88,304.25 141.75,282.5 153.62,281.78 165.5,275.33 177.38,288.95 189.25,299.11 201.12,305.69 213,296.12 224.88,297.32 236.75,311.42 248.62,315.01 260.5,317.87 272.38,320.38 284.25,321.46 296.12,322.65 308,323.61" fill="none" stroke="#00ffff" stroke-width="1.15" stroke-linejoin="round"/>
<g stroke="#00ffff"><use href="#mk" x="23" y="322.42"/><use href="#mk" x="34.88" y="324.21"/><use href="#mk" x="46.75" y="324.57"/><use href="#mk" x="58.62" y="324.57"/><use href="#mk" x="70.5" y="324.21"/><use href="#mk" x="82.38" y="324.21"/><use href="#mk" x="94.25" y="324.21"/><use href="#mk" x="106.12" y="323.61"/><use href="#mk" x="118" y="320.38"/><use href="#mk" x="129.88" y="304.25"/><use href="#mk" x="141.75" y="282.5"/><use href="#mk" x="153.62" y="281.78"/><use href="#mk" x="165.5" y="275.33"/><use href="#mk" x="177.38" y="288.95"/><use href="#mk" x="189.25" y="299.11"/><use href="#mk" x="201.12" y="305.69"/><use href="#mk" x="213" y="296.12"/><use href="#mk" x="224.88" y="297.32"/><use href="#mk" x="236.75" y="311.42"/><use href="#mk" x="248.62" y="315.01"/><use href="#mk" x="260.5" y="317.87"/><use href="#mk" x="272.38" y="320.38"/><use href="#mk" x="284.25" y="321.46"/><use href="#mk" x="296.12" y="322.65"/><use href="#mk" x="308" y="323.61"/></g>
<polyline clip-path="url(#cl5)" points="23,323.61 34.88,322.65 46.75,323.97 58.62,324.45 70.5,324.69 82.38,324.69 94.25,324.69 106.12,324.69 118,324.81 129.88,324.81 141.75,324.81 153.62,324.81 165.5,324.81 177.38,324.09 189.25,321.7 201.12,320.14 213,319.07 224.88,321.46 236.75,322.89 248.62,323.13 260.5,323.61 272.38,323.61 284.25,323.61 296.12,323.61 308,323.97" fill="none" stroke="#00ff00" stroke-width="1.15" stroke-linejoin="round"/>
<g stroke="#00ff00"><use href="#mk" x="23" y="323.61"/><use href="#mk" x="34.88" y="322.65"/><use href="#mk" x="46.75" y="323.97"/><use href="#mk" x="58.62" y="324.45"/><use href="#mk" x="70.5" y="324.69"/><use href="#mk" x="82.38" y="324.69"/><use href="#mk" x="94.25" y="324.69"/><use href="#mk" x="106.12" y="324.69"/><use href="#mk" x="118" y="324.81"/><use href="#mk" x="129.88" y="324.81"/><use href="#mk" x="141.75" y="324.81"/><use href="#mk" x="153.62" y="324.81"/><use href="#mk" x="165.5" y="324.81"/><use href="#mk" x="177.38" y="324.09"/><use href="#mk" x="189.25" y="321.7"/><use href="#mk" x="201.12" y="320.14"/><use href="#mk" x="213" y="319.07"/><use href="#mk" x="224.88" y="321.46"/><use href="#mk" x="236.75" y="322.89"/><use href="#mk" x="248.62" y="323.13"/><use href="#mk" x="260.5" y="323.61"/><use href="#mk" x="272.38" y="323.61"/><use href="#mk" x="284.25" y="323.61"/><use href="#mk" x="296.12" y="323.61"/><use href="#mk" x="308" y="323.97"/></g>
<polyline clip-path="url(#cl5)" points="23,323.97 34.88,323.97 46.75,324.21 58.62,324.21 70.5,323.97 82.38,323.97 94.25,323.97 106.12,323.13 118,323.61 129.88,322.89 141.75,322.89 153.62,319.55 165.5,317.63 177.38,305.69 189.25,284.53 201.12,299.11 213,296.12 224.88,270.43 236.75,276.65 248.62,288.12 260.5,289.43 272.38,279.39 284.25,279.99 296.12,275.33 308,294.93" fill="none" stroke="#0000ff" stroke-width="1.15" stroke-linejoin="round"/>
<g stroke="#0000ff"><use href="#mk" x="23" y="323.97"/><use href="#mk" x="34.88" y="323.97"/><use href="#mk" x="46.75" y="324.21"/><use href="#mk" x="58.62" y="324.21"/><use href="#mk" x="70.5" y="323.97"/><use href="#mk" x="82.38" y="323.97"/><use href="#mk" x="94.25" y="323.97"/><use href="#mk" x="106.12" y="323.13"/><use href="#mk" x="118" y="323.61"/><use href="#mk" x="129.88" y="322.89"/><use href="#mk" x="141.75" y="322.89"/><use href="#mk" x="153.62" y="319.55"/><use href="#mk" x="165.5" y="317.63"/><use href="#mk" x="177.38" y="305.69"/><use href="#mk" x="189.25" y="284.53"/><use href="#mk" x="201.12" y="299.11"/><use href="#mk" x="213" y="296.12"/><use href="#mk" x="224.88" y="270.43"/><use href="#mk" x="236.75" y="276.65"/><use href="#mk" x="248.62" y="288.12"/><use href="#mk" x="260.5" y="289.43"/><use href="#mk" x="272.38" y="279.39"/><use href="#mk" x="284.25" y="279.99"/><use href="#mk" x="296.12" y="275.33"/><use href="#mk" x="308" y="294.93"/></g>
<polyline clip-path="url(#cl5)" points="23,294.93 34.88,288.12 46.75,300.43 58.62,296.12 70.5,294.57 82.38,296.36 94.25,301.74 106.12,306.28 118,311.9 129.88,288.95 141.75,251.91 153.62,272.23 165.5,258.24 177.38,283.22 189.25,292.78 201.12,290.99 213,268.4 224.88,292.18 236.75,294.93 248.62,297.8 260.5,306.28 272.38,311.9 284.25,315.01 296.12,316.56 308,317.63" fill="none" stroke="#ff0000" stroke-width="1.15" stroke-linejoin="round"/>
<g stroke="#ff0000"><use href="#mk" x="23" y="294.93"/><use href="#mk" x="34.88" y="288.12"/><use href="#mk" x="46.75" y="300.43"/><use href="#mk" x="58.62" y="296.12"/><use href="#mk" x="70.5" y="294.57"/><use href="#mk" x="82.38" y="296.36"/><use href="#mk" x="94.25" y="301.74"/><use href="#mk" x="106.12" y="306.28"/><use href="#mk" x="118" y="311.9"/><use href="#mk" x="129.88" y="288.95"/><use href="#mk" x="141.75" y="251.91"/><use href="#mk" x="153.62" y="272.23"/><use href="#mk" x="165.5" y="258.24"/><use href="#mk" x="177.38" y="283.22"/><use href="#mk" x="189.25" y="292.78"/><use href="#mk" x="201.12" y="290.99"/><use href="#mk" x="213" y="268.4"/><use href="#mk" x="224.88" y="292.18"/><use href="#mk" x="236.75" y="294.93"/><use href="#mk" x="248.62" y="297.8"/><use href="#mk" x="260.5" y="306.28"/><use href="#mk" x="272.38" y="311.9"/><use href="#mk" x="284.25" y="315.01"/><use href="#mk" x="296.12" y="316.56"/><use href="#mk" x="308" y="317.63"/></g>
</g>
<path d="M70.5,242.1V325.75M118,242.1V325.75M165.5,242.1V325.75M213,242.1V325.75M260.5,242.1V325.75M23,314.05H308M23,302.1H308M23,290.15H308M23,278.2H308M23,266.25H308M23,254.3H308" stroke="#000" stroke-width="1.2" stroke-dasharray="1.15 1.997" stroke-dashoffset="1.07" fill="none"/>
<text x="23" y="337.45" font-size="8.3" text-anchor="middle" textLength="5.05" lengthAdjust="spacingAndGlyphs">0</text>
<text x="70.5" y="337.45" font-size="8.3" text-anchor="middle" textLength="5.05" lengthAdjust="spacingAndGlyphs">4</text>
<text x="118" y="337.45" font-size="8.3" text-anchor="middle" textLength="5.05" lengthAdjust="spacingAndGlyphs">8</text>
<text x="165.5" y="337.45" font-size="8.3" text-anchor="middle" textLength="9.15" lengthAdjust="spacingAndGlyphs">12</text>
<text x="213" y="337.45" font-size="8.3" text-anchor="middle" textLength="9.15" lengthAdjust="spacingAndGlyphs">16</text>
<text x="260.5" y="337.45" font-size="8.3" text-anchor="middle" textLength="10.1" lengthAdjust="spacingAndGlyphs">20</text>
<text x="308" y="337.45" font-size="8.3" text-anchor="middle" textLength="10.1" lengthAdjust="spacingAndGlyphs">24</text>
<text x="18.4" y="328.9" font-size="8.3" text-anchor="end" textLength="5.05" lengthAdjust="spacingAndGlyphs">2</text>
<text x="18.4" y="316.95" font-size="8.3" text-anchor="end" textLength="5.05" lengthAdjust="spacingAndGlyphs">3</text>
<text x="18.4" y="305" font-size="8.3" text-anchor="end" textLength="5.05" lengthAdjust="spacingAndGlyphs">4</text>
<text x="18.4" y="293.05" font-size="8.3" text-anchor="end" textLength="5.05" lengthAdjust="spacingAndGlyphs">5</text>
<text x="18.4" y="281.1" font-size="8.3" text-anchor="end" textLength="5.05" lengthAdjust="spacingAndGlyphs">6</text>
<text x="18.4" y="269.15" font-size="8.3" text-anchor="end" textLength="5.05" lengthAdjust="spacingAndGlyphs">7</text>
<text x="18.4" y="257.2" font-size="8.3" text-anchor="end" textLength="5.05" lengthAdjust="spacingAndGlyphs">8</text>
<text x="18.4" y="245.25" font-size="8.3" text-anchor="end" textLength="5.05" lengthAdjust="spacingAndGlyphs">9</text>
<text x="282.5" y="238.7" font-size="8.3" text-anchor="end" textLength="15.5" lengthAdjust="spacingAndGlyphs">SO2</text>
<text x="309.1" y="238.7" font-size="8.3" text-anchor="end" textLength="22.9" lengthAdjust="spacingAndGlyphs">(ppb)</text>
<clipPath id="cp6"><rect x="348" y="241.8" width="285" height="83.95"/></clipPath>
<clipPath id="cl6"><rect x="349.05" y="243.15" width="282.9" height="81.55"/></clipPath>
<path d="M371.75,325.75v-4.0M371.75,242.1v4.0M395.5,325.75v-6.0M395.5,242.1v6.0M419.25,325.75v-4.0M419.25,242.1v4.0M443,325.75v-6.0M443,242.1v6.0M466.75,325.75v-4.0M466.75,242.1v4.0M490.5,325.75v-6.0M490.5,242.1v6.0M514.25,325.75v-4.0M514.25,242.1v4.0M538,325.75v-6.0M538,242.1v6.0M561.75,325.75v-4.0M561.75,242.1v4.0M585.5,325.75v-6.0M585.5,242.1v6.0M609.25,325.75v-4.0M609.25,242.1v4.0M348,319.03h4.0M633,319.03h-4.0M348,312.06h6.0M633,312.06h-6.0M348,305.09h4.0M633,305.09h-4.0M348,298.12h6.0M633,298.12h-6.0M348,291.15h4.0M633,291.15h-4.0M348,284.18h6.0M633,284.18h-6.0M348,277.2h4.0M633,277.2h-4.0M348,270.23h6.0M633,270.23h-6.0M348,263.26h4.0M633,263.26h-4.0M348,256.29h6.0M633,256.29h-6.0M348,249.32h4.0M633,249.32h-4.0" stroke="#000" stroke-width="1" fill="none"/>
<rect x="348" y="242.1" width="285" height="83.65" fill="none" stroke="#000" stroke-width="1.7"/>
<g clip-path="url(#cp6)">
<polyline clip-path="url(#cl6)" points="348,318.33 359.88,316.24 371.75,317.63 383.62,317.63 395.5,318.33 407.38,317.63 419.25,318.89 431.12,318.89 443,311.36 454.88,307.6 466.75,305.51 478.62,288.08 490.5,271.07 502.38,251.27 514.25,258.24 526.12,250.58 538,245.42 549.88,252.53 561.75,252.53 573.62,276.09 585.5,277.9 597.38,276.65 609.25,295.75 621.12,284.31 633,292.26" fill="none" stroke="#00ffff" stroke-width="1.15" stroke-linejoin="round"/>
<g stroke="#00ffff"><use href="#mk" x="348" y="318.33"/><use href="#mk" x="359.88" y="316.24"/><use href="#mk" x="371.75" y="317.63"/><use href="#mk" x="383.62" y="317.63"/><use href="#mk" x="395.5" y="318.33"/><use href="#mk" x="407.38" y="317.63"/><use href="#mk" x="419.25" y="318.89"/><use href="#mk" x="431.12" y="318.89"/><use href="#mk" x="443" y="311.36"/><use href="#mk" x="454.88" y="307.6"/><use href="#mk" x="466.75" y="305.51"/><use href="#mk" x="478.62" y="288.08"/><use href="#mk" x="490.5" y="271.07"/><use href="#mk" x="502.38" y="251.27"/><use href="#mk" x="514.25" y="258.24"/><use href="#mk" x="526.12" y="250.58"/><use href="#mk" x="538" y="245.42"/><use href="#mk" x="549.88" y="252.53"/><use href="#mk" x="561.75" y="252.53"/><use href="#mk" x="573.62" y="276.09"/><use href="#mk" x="585.5" y="277.9"/><use href="#mk" x="597.38" y="276.65"/><use href="#mk" x="609.25" y="295.75"/><use href="#mk" x="621.12" y="284.31"/><use href="#mk" x="633" y="292.26"/></g>
<polyline clip-path="url(#cl6)" points="348,292.68 359.88,299.09 371.75,295.75 383.62,297.84 395.5,305.51 407.38,305.51 419.25,313.17 431.12,296.03 443,277.34 454.88,279.99 466.75,278.18 478.62,269.26 490.5,267.86 502.38,267.72 514.25,259.08 526.12,255.18 538,259.08 549.88,259.08 561.75,266.61 573.62,275.67 585.5,269.26 597.38,263.82 609.25,262.57 621.12,264.66 633,267.86" fill="none" stroke="#00ff00" stroke-width="1.15" stroke-linejoin="round"/>
<g stroke="#00ff00"><use href="#mk" x="348" y="292.68"/><use href="#mk" x="359.88" y="299.09"/><use href="#mk" x="371.75" y="295.75"/><use href="#mk" x="383.62" y="297.84"/><use href="#mk" x="395.5" y="305.51"/><use href="#mk" x="407.38" y="305.51"/><use href="#mk" x="419.25" y="313.17"/><use href="#mk" x="431.12" y="296.03"/><use href="#mk" x="443" y="277.34"/><use href="#mk" x="454.88" y="279.99"/><use href="#mk" x="466.75" y="278.18"/><use href="#mk" x="478.62" y="269.26"/><use href="#mk" x="490.5" y="267.86"/><use href="#mk" x="502.38" y="267.72"/><use href="#mk" x="514.25" y="259.08"/><use href="#mk" x="526.12" y="255.18"/><use href="#mk" x="538" y="259.08"/><use href="#mk" x="549.88" y="259.08"/><use href="#mk" x="561.75" y="266.61"/><use href="#mk" x="573.62" y="275.67"/><use href="#mk" x="585.5" y="269.26"/><use href="#mk" x="597.38" y="263.82"/><use href="#mk" x="609.25" y="262.57"/><use href="#mk" x="621.12" y="264.66"/><use href="#mk" x="633" y="267.86"/></g>
<polyline clip-path="url(#cl6)" points="348,268.42 359.88,265.35 371.75,261.31 383.62,257.69 395.5,260.2 407.38,261.31 419.25,261.03 431.12,262.01 443,266.47 454.88,274.83 466.75,271.49 478.62,274.28 490.5,271.77 502.38,281.94 514.25,284.31 526.12,284.31 538,283.76 549.88,303.69 561.75,317.77 573.62,308.57 585.5,317.63 597.38,315.82 609.25,317.77 621.12,319.03 633,319.03" fill="none" stroke="#0000ff" stroke-width="1.15" stroke-linejoin="round"/>
<g stroke="#0000ff"><use href="#mk" x="348" y="268.42"/><use href="#mk" x="359.88" y="265.35"/><use href="#mk" x="371.75" y="261.31"/><use href="#mk" x="383.62" y="257.69"/><use href="#mk" x="395.5" y="260.2"/><use href="#mk" x="407.38" y="261.31"/><use href="#mk" x="419.25" y="261.03"/><use href="#mk" x="431.12" y="262.01"/><use href="#mk" x="443" y="266.47"/><use href="#mk" x="454.88" y="274.83"/><use href="#mk" x="466.75" y="271.49"/><use href="#mk" x="478.62" y="274.28"/><use href="#mk" x="490.5" y="271.77"/><use href="#mk" x="502.38" y="281.94"/><use href="#mk" x="514.25" y="284.31"/><use href="#mk" x="526.12" y="284.31"/><use href="#mk" x="538" y="283.76"/><use href="#mk" x="549.88" y="303.69"/><use href="#mk" x="561.75" y="317.77"/><use href="#mk" x="573.62" y="308.57"/><use href="#mk" x="585.5" y="317.63"/><use href="#mk" x="597.38" y="315.82"/><use href="#mk" x="609.25" y="317.77"/><use href="#mk" x="621.12" y="319.03"/><use href="#mk" x="633" y="319.03"/></g>
<polyline clip-path="url(#cl6)" points="348,319.03 359.88,319.03 371.75,319.03 383.62,319.03 395.5,319.03 407.38,319.03 419.25,319.03 431.12,318.61 443,316.24 454.88,314.29 466.75,311.22 478.62,300.9 490.5,299.65 502.38,300.49 514.25,291.98 526.12,288.92 538,301.74 549.88,307.32 561.75,318.61 573.62,319.03 585.5,318.33 597.38,319.03 609.25,319.59 621.12,319.31 633,319.03" fill="none" stroke="#ff0000" stroke-width="1.15" stroke-linejoin="round"/>
<g stroke="#ff0000"><use href="#mk" x="348" y="319.03"/><use href="#mk" x="359.88" y="319.03"/><use href="#mk" x="371.75" y="319.03"/><use href="#mk" x="383.62" y="319.03"/><use href="#mk" x="395.5" y="319.03"/><use href="#mk" x="407.38" y="319.03"/><use href="#mk" x="419.25" y="319.03"/><use href="#mk" x="431.12" y="318.61"/><use href="#mk" x="443" y="316.24"/><use href="#mk" x="454.88" y="314.29"/><use href="#mk" x="466.75" y="311.22"/><use href="#mk" x="478.62" y="300.9"/><use href="#mk" x="490.5" y="299.65"/><use href="#mk" x="502.38" y="300.49"/><use href="#mk" x="514.25" y="291.98"/><use href="#mk" x="526.12" y="288.92"/><use href="#mk" x="538" y="301.74"/><use href="#mk" x="549.88" y="307.32"/><use href="#mk" x="561.75" y="318.61"/><use href="#mk" x="573.62" y="319.03"/><use href="#mk" x="585.5" y="318.33"/><use href="#mk" x="597.38" y="319.03"/><use href="#mk" x="609.25" y="319.59"/><use href="#mk" x="621.12" y="319.31"/><use href="#mk" x="633" y="319.03"/></g>
</g>
<path d="M395.5,242.1V325.75M443,242.1V325.75M490.5,242.1V325.75M538,242.1V325.75M585.5,242.1V325.75M348,312.06H633M348,298.12H633M348,284.18H633M348,270.23H633M348,256.29H633" stroke="#000" stroke-width="1.2" stroke-dasharray="1.15 1.997" stroke-dashoffset="1.07" fill="none"/>
<text x="348" y="337.45" font-size="8.3" text-anchor="middle" textLength="5.05" lengthAdjust="spacingAndGlyphs">0</text>
<text x="395.5" y="337.45" font-size="8.3" text-anchor="middle" textLength="5.05" lengthAdjust="spacingAndGlyphs">4</text>
<text x="443" y="337.45" font-size="8.3" text-anchor="middle" textLength="5.05" lengthAdjust="spacingAndGlyphs">8</text>
<text x="490.5" y="337.45" font-size="8.3" text-anchor="middle" textLength="9.15" lengthAdjust="spacingAndGlyphs">12</text>
<text x="538" y="337.45" font-size="8.3" text-anchor="middle" textLength="9.15" lengthAdjust="spacingAndGlyphs">16</text>
<text x="585.5" y="337.45" font-size="8.3" text-anchor="middle" textLength="10.1" lengthAdjust="spacingAndGlyphs">20</text>
<text x="633" y="337.45" font-size="8.3" text-anchor="middle" textLength="10.1" lengthAdjust="spacingAndGlyphs">24</text>
<text x="343.4" y="328.9" font-size="8.3" text-anchor="end" textLength="5.05" lengthAdjust="spacingAndGlyphs">0</text>
<text x="343.4" y="314.96" font-size="8.3" text-anchor="end" textLength="9.15" lengthAdjust="spacingAndGlyphs">10</text>
<text x="343.4" y="301.02" font-size="8.3" text-anchor="end" textLength="10.1" lengthAdjust="spacingAndGlyphs">20</text>
<text x="343.4" y="287.07" font-size="8.3" text-anchor="end" textLength="10.1" lengthAdjust="spacingAndGlyphs">30</text>
<text x="343.4" y="273.13" font-size="8.3" text-anchor="end" textLength="10.1" lengthAdjust="spacingAndGlyphs">40</text>
<text x="343.4" y="259.19" font-size="8.3" text-anchor="end" textLength="10.1" lengthAdjust="spacingAndGlyphs">50</text>
<text x="343.4" y="245.25" font-size="8.3" text-anchor="end" textLength="10.1" lengthAdjust="spacingAndGlyphs">60</text>
<text x="607.5" y="238.7" font-size="8.3" text-anchor="end" textLength="10.4" lengthAdjust="spacingAndGlyphs">O3</text>
<text x="634.1" y="238.7" font-size="8.3" text-anchor="end" textLength="22.9" lengthAdjust="spacingAndGlyphs">(ppb)</text>
<clipPath id="cp7"><rect x="673" y="241.8" width="285" height="83.95"/></clipPath>
<clipPath id="cl7"><rect x="674.05" y="243.15" width="282.9" height="81.55"/></clipPath>
<path d="M696.75,325.75v-4.0M696.75,242.1v4.0M720.5,325.75v-6.0M720.5,242.1v6.0M744.25,325.75v-4.0M744.25,242.1v4.0M768,325.75v-6.0M768,242.1v6.0M791.75,325.75v-4.0M791.75,242.1v4.0M815.5,325.75v-6.0M815.5,242.1v6.0M839.25,325.75v-4.0M839.25,242.1v4.0M863,325.75v-6.0M863,242.1v6.0M886.75,325.75v-4.0M886.75,242.1v4.0M910.5,325.75v-6.0M910.5,242.1v6.0M934.25,325.75v-4.0M934.25,242.1v4.0M673,317.63h4.0M958,317.63h-4.0M673,309.27h6.0M958,309.27h-6.0M673,300.9h4.0M958,300.9h-4.0M673,292.54h6.0M958,292.54h-6.0M673,284.18h4.0M958,284.18h-4.0M673,275.81h6.0M958,275.81h-6.0M673,267.44h4.0M958,267.44h-4.0M673,259.08h6.0M958,259.08h-6.0M673,250.72h4.0M958,250.72h-4.0" stroke="#000" stroke-width="1" fill="none"/>
<rect x="673" y="242.1" width="285" height="83.65" fill="none" stroke="#000" stroke-width="1.7"/>
<g clip-path="url(#cp7)">
<polyline clip-path="url(#cl7)" points="673,302.91 684.88,307.6 696.75,301.74 708.62,313.29 720.5,303.41 732.38,302.24 744.25,302.91 756.12,302.58 768,304.25 779.88,303.75 791.75,303.75 803.62,288.19 815.5,281.67 827.38,301.24 839.25,312.45 851.12,310.61 863,311.95 874.88,307.26 886.75,299.23 898.62,283.84 910.5,284.51 922.38,285.51 934.25,281.67 946.12,285.01 958,286.35" fill="none" stroke="#00ffff" stroke-width="1.15" stroke-linejoin="round"/>
<g stroke="#00ffff"><use href="#mk" x="673" y="302.91"/><use href="#mk" x="684.88" y="307.6"/><use href="#mk" x="696.75" y="301.74"/><use href="#mk" x="708.62" y="313.29"/><use href="#mk" x="720.5" y="303.41"/><use href="#mk" x="732.38" y="302.24"/><use href="#mk" x="744.25" y="302.91"/><use href="#mk" x="756.12" y="302.58"/><use href="#mk" x="768" y="304.25"/><use href="#mk" x="779.88" y="303.75"/><use href="#mk" x="791.75" y="303.75"/><use href="#mk" x="803.62" y="288.19"/><use href="#mk" x="815.5" y="281.67"/><use href="#mk" x="827.38" y="301.24"/><use href="#mk" x="839.25" y="312.45"/><use href="#mk" x="851.12" y="310.61"/><use href="#mk" x="863" y="311.95"/><use href="#mk" x="874.88" y="307.26"/><use href="#mk" x="886.75" y="299.23"/><use href="#mk" x="898.62" y="283.84"/><use href="#mk" x="910.5" y="284.51"/><use href="#mk" x="922.38" y="285.51"/><use href="#mk" x="934.25" y="281.67"/><use href="#mk" x="946.12" y="285.01"/><use href="#mk" x="958" y="286.35"/></g>
<polyline clip-path="url(#cl7)" points="673,286.35 684.88,286.35 696.75,288.36 708.62,290.87 720.5,292.04 732.38,294.05 744.25,288.86 756.12,294.71 768,307.26 779.88,310.61 791.75,307.6 803.62,305.09 815.5,303.75 827.38,306.76 839.25,303.75 851.12,301.24 863,300.4 874.88,300.4 886.75,299.23 898.62,298.4 910.5,296.56 922.38,297.39 934.25,297.89 946.12,297.89 958,298.4" fill="none" stroke="#00ff00" stroke-width="1.15" stroke-linejoin="round"/>
<g stroke="#00ff00"><use href="#mk" x="673" y="286.35"/><use href="#mk" x="684.88" y="286.35"/><use href="#mk" x="696.75" y="288.36"/><use href="#mk" x="708.62" y="290.87"/><use href="#mk" x="720.5" y="292.04"/><use href="#mk" x="732.38" y="294.05"/><use href="#mk" x="744.25" y="288.86"/><use href="#mk" x="756.12" y="294.71"/><use href="#mk" x="768" y="307.26"/><use href="#mk" x="779.88" y="310.61"/><use href="#mk" x="791.75" y="307.6"/><use href="#mk" x="803.62" y="305.09"/><use href="#mk" x="815.5" y="303.75"/><use href="#mk" x="827.38" y="306.76"/><use href="#mk" x="839.25" y="303.75"/><use href="#mk" x="851.12" y="301.24"/><use href="#mk" x="863" y="300.4"/><use href="#mk" x="874.88" y="300.4"/><use href="#mk" x="886.75" y="299.23"/><use href="#mk" x="898.62" y="298.4"/><use href="#mk" x="910.5" y="296.56"/><use href="#mk" x="922.38" y="297.39"/><use href="#mk" x="934.25" y="297.89"/><use href="#mk" x="946.12" y="297.89"/><use href="#mk" x="958" y="298.4"/></g>
<polyline clip-path="url(#cl7)" points="673,298.4 684.88,301.24 696.75,304.25 708.62,307.26 720.5,306.26 732.38,306.76 744.25,306.76 756.12,306.26 768,305.59 779.88,304.25 791.75,305.09 803.62,305.09 815.5,303.75 827.38,300.9 839.25,300.9 851.12,296.56 863,299.23 874.88,291.54 886.75,275.64 898.62,294.71 910.5,290.87 922.38,293.21 934.25,295.38 946.12,283.84 958,286.35" fill="none" stroke="#0000ff" stroke-width="1.15" stroke-linejoin="round"/>
<g stroke="#0000ff"><use href="#mk" x="673" y="298.4"/><use href="#mk" x="684.88" y="301.24"/><use href="#mk" x="696.75" y="304.25"/><use href="#mk" x="708.62" y="307.26"/><use href="#mk" x="720.5" y="306.26"/><use href="#mk" x="732.38" y="306.76"/><use href="#mk" x="744.25" y="306.76"/><use href="#mk" x="756.12" y="306.26"/><use href="#mk" x="768" y="305.59"/><use href="#mk" x="779.88" y="304.25"/><use href="#mk" x="791.75" y="305.09"/><use href="#mk" x="803.62" y="305.09"/><use href="#mk" x="815.5" y="303.75"/><use href="#mk" x="827.38" y="300.9"/><use href="#mk" x="839.25" y="300.9"/><use href="#mk" x="851.12" y="296.56"/><use href="#mk" x="863" y="299.23"/><use href="#mk" x="874.88" y="291.54"/><use href="#mk" x="886.75" y="275.64"/><use href="#mk" x="898.62" y="294.71"/><use href="#mk" x="910.5" y="290.87"/><use href="#mk" x="922.38" y="293.21"/><use href="#mk" x="934.25" y="295.38"/><use href="#mk" x="946.12" y="283.84"/><use href="#mk" x="958" y="286.35"/></g>
<polyline clip-path="url(#cl7)" points="673,287.19 684.88,288.19 696.75,292.04 708.62,287.69 720.5,278.15 732.38,283 744.25,283 756.12,281.16 768,285.01 779.88,290.87 791.75,280.66 803.62,288.19 815.5,270.46 827.38,285.01 839.25,292.04 851.12,289.36 863,284.34 874.88,286.35 886.75,272.8 898.62,266.27 910.5,248.04 922.38,265.94 934.25,279.99 946.12,280.66 958,288.19" fill="none" stroke="#ff0000" stroke-width="1.15" stroke-linejoin="round"/>
<g stroke="#ff0000"><use href="#mk" x="673" y="287.19"/><use href="#mk" x="684.88" y="288.19"/><use href="#mk" x="696.75" y="292.04"/><use href="#mk" x="708.62" y="287.69"/><use href="#mk" x="720.5" y="278.15"/><use href="#mk" x="732.38" y="283"/><use href="#mk" x="744.25" y="283"/><use href="#mk" x="756.12" y="281.16"/><use href="#mk" x="768" y="285.01"/><use href="#mk" x="779.88" y="290.87"/><use href="#mk" x="791.75" y="280.66"/><use href="#mk" x="803.62" y="288.19"/><use href="#mk" x="815.5" y="270.46"/><use href="#mk" x="827.38" y="285.01"/><use href="#mk" x="839.25" y="292.04"/><use href="#mk" x="851.12" y="289.36"/><use href="#mk" x="863" y="284.34"/><use href="#mk" x="874.88" y="286.35"/><use href="#mk" x="886.75" y="272.8"/><use href="#mk" x="898.62" y="266.27"/><use href="#mk" x="910.5" y="248.04"/><use href="#mk" x="922.38" y="265.94"/><use href="#mk" x="934.25" y="279.99"/><use href="#mk" x="946.12" y="280.66"/><use href="#mk" x="958" y="288.19"/></g>
</g>
<path d="M720.5,242.1V325.75M768,242.1V325.75M815.5,242.1V325.75M863,242.1V325.75M910.5,242.1V325.75M673,309.27H958M673,292.54H958M673,275.81H958M673,259.08H958" stroke="#000" stroke-width="1.2" stroke-dasharray="1.15 1.997" stroke-dashoffset="1.07" fill="none"/>
<text x="673" y="337.45" font-size="8.3" text-anchor="middle" textLength="5.05" lengthAdjust="spacingAndGlyphs">0</text>
<text x="720.5" y="337.45" font-size="8.3" text-anchor="middle" textLength="5.05" lengthAdjust="spacingAndGlyphs">4</text>
<text x="768" y="337.45" font-size="8.3" text-anchor="middle" textLength="5.05" lengthAdjust="spacingAndGlyphs">8</text>
<text x="815.5" y="337.45" font-size="8.3" text-anchor="middle" textLength="9.15" lengthAdjust="spacingAndGlyphs">12</text>
<text x="863" y="337.45" font-size="8.3" text-anchor="middle" textLength="9.15" lengthAdjust="spacingAndGlyphs">16</text>
<text x="910.5" y="337.45" font-size="8.3" text-anchor="middle" textLength="10.1" lengthAdjust="spacingAndGlyphs">20</text>
<text x="958" y="337.45" font-size="8.3" text-anchor="middle" textLength="10.1" lengthAdjust="spacingAndGlyphs">24</text>
<text x="668.4" y="328.9" font-size="8.3" text-anchor="end" textLength="12.4" lengthAdjust="spacingAndGlyphs">0.6</text>
<text x="668.4" y="312.17" font-size="8.3" text-anchor="end" textLength="12.4" lengthAdjust="spacingAndGlyphs">0.7</text>
<text x="668.4" y="295.44" font-size="8.3" text-anchor="end" textLength="12.4" lengthAdjust="spacingAndGlyphs">0.8</text>
<text x="668.4" y="278.71" font-size="8.3" text-anchor="end" textLength="12.4" lengthAdjust="spacingAndGlyphs">0.9</text>
<text x="668.4" y="261.98" font-size="8.3" text-anchor="end" textLength="11.45" lengthAdjust="spacingAndGlyphs">1.0</text>
<text x="668.4" y="245.25" font-size="8.3" text-anchor="end" textLength="10.5" lengthAdjust="spacingAndGlyphs">1.1</text>
<text x="928.9" y="238.7" font-size="8.3" text-anchor="end" textLength="10.1" lengthAdjust="spacingAndGlyphs">CO</text>
<text x="959.1" y="238.7" font-size="8.3" text-anchor="end" textLength="26.4" lengthAdjust="spacingAndGlyphs">(ppm)</text>
</g></svg>
</body></html>
